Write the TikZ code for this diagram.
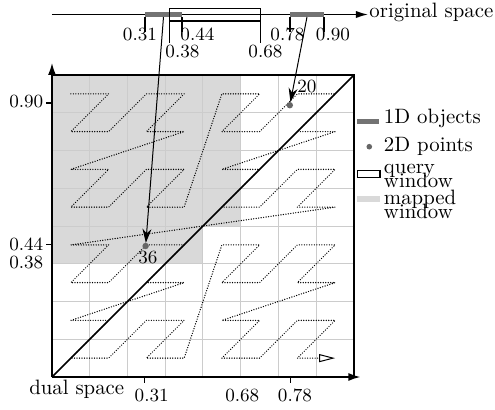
\documentclass[tikz,border=0pt]{standalone}
\usetikzlibrary{arrows.meta}
\definecolor{barc}{gray}{0.45}
\definecolor{mapc}{gray}{0.85}
\definecolor{gridc}{gray}{0.8}
\definecolor{ptc}{gray}{0.4}
\begin{document}
\begin{tikzpicture}[x=0.5pt,y=-0.5pt,
  txt/.style={font=\fontsize{10.4}{12}\selectfont, inner sep=0pt, outer sep=0pt},
  num/.style={font=\fontsize{9.3}{11}\selectfont, inner sep=0pt, outer sep=0pt},
  objbar/.style={fill=barc, inner sep=0pt, outer sep=0pt, minimum height=2.7pt},
  dpt/.style={circle, fill=ptc, inner sep=0pt, outer sep=0pt, minimum size=3.2pt},
  qbox/.style={draw=black, line width=0.6pt, inner sep=0pt, outer sep=0pt},
  tickl/.style={line width=0.6pt},
  axisl/.style={line width=0.8pt, -{Latex[length=6pt,width=4pt]}},
  zcurve/.style={line width=0.7pt, line cap=round, dash pattern=on 0pt off 1.25pt,
    -{Triangle[open,length=8pt,width=4pt,line width=0.5pt]}},
  maparrow/.style={line width=0.5pt, -{Stealth[length=7pt,width=4.5pt]}},
]
\useasboundingbox (0,0) rectangle (495,409);

% ---------- original space (top) ----------
\coordinate (os0) at (52,14.5);
\coordinate (os1) at (368,14.5);
\draw[line width=0.7pt, -{Latex[length=6pt,width=3.6pt]}] (os0) -- (os1);
\node[txt, anchor=base west] (ost) at (369.5,17.5) {original space};
\node[objbar, minimum width=18.5pt] (ob1) at (163.5,14.3) {};
\node[objbar, minimum width=17pt] (ob2) at (307,14.3) {};
\node[qbox, minimum width=45.6pt, minimum height=6.2pt] (qw) at (215.1,14.8) {};
\draw[tickl] (ob1.south west) -- ++(0,15);
\draw[tickl] (ob1.south east) -- ++(0,15);
\draw[tickl] (ob2.south west) -- ++(0,15);
\draw[tickl] (ob2.south east) -- ++(0,15);
\draw[tickl] (qw.south west) -- ++(0,22);
\draw[tickl] (qw.south east) -- ++(0,22);
\node[num, anchor=base] (t31) at (140,40.5) {0.31};
\node[num, anchor=base] (t44) at (197.5,40.5) {0.44};
\node[num, anchor=base] (t78) at (287.5,40.5) {0.78};
\node[num, anchor=base] (t90) at (333,40.5) {0.90};
\node[num, anchor=base] (t38) at (182.5,57.3) {0.38};
\node[num, anchor=base] (t68) at (265.5,57.3) {0.68};

% ---------- dual space (square) ----------
\begin{scope}[shift={(52,377)}, x=18.875pt, y=18.875pt]
  \fill[mapc] (0,8) -- (5,8) -- (5,4) -- (4,4) -- (4,3.02) -- (0,3.02) -- cycle;
  \foreach \k in {1,...,7} {
    \draw[gridc, line width=0.5pt] (\k,0) -- (\k,8);
    \draw[gridc, line width=0.5pt] (0,\k) -- (8,\k);
  }
  \draw[zcurve] (0.5,7.5)
    \foreach \i [evaluate=\i as \cx using {mod(\i,2)+2*mod(floor(\i/4),2)+4*mod(floor(\i/16),2)+0.5},
                 evaluate=\i as \cy using {7.5-(mod(floor(\i/2),2)+2*mod(floor(\i/8),2)+4*mod(floor(\i/32),2))}]
      in {1,...,63} { -- (\cx,\cy) };
  \draw[line width=0.8pt] (0,0) -- (8,8);
  \draw[line width=0.6pt] (0,8) -- (8,8) -- (8,0);
  \coordinate (o) at (0,0);
  \coordinate (xa) at (8.17,0);
  \coordinate (ya) at (0,8.32);
  \draw[axisl] (o) -- (xa);
  \draw[axisl] (o) -- (ya);
  \draw[tickl] (0,7.26) -- (-0.16,7.26);
  \draw[tickl] (0,3.5) -- (-0.16,3.5);
  \draw[tickl] (2.46,0) -- (2.46,-0.16);
  \draw[tickl] (6.32,0) -- (6.32,-0.16);
  \node[dpt] (p36) at (2.48,3.47) {};
  \node[dpt] (p20) at (6.3,7.2) {};
\end{scope}

\draw[maparrow] (ob1.south) -- (p36);
\draw[maparrow] (ob2.south) -- (p20);
\node[num, anchor=base] (l36) at (148,263.3) {36};
\node[num, anchor=base] (l20) at (307,92.3) {20};

\node[txt, anchor=base west] (ds) at (29.3,394) {dual space};
\node[num, anchor=base] (x31) at (151.7,401) {0.31};
\node[num, anchor=base] (x68) at (242.3,401) {0.68};
\node[num, anchor=base] (x78) at (295,401) {0.78};
\node[num, anchor=base east] (y90) at (43.3,107.7) {0.90};
\node[num, anchor=base east] (y44) at (43.3,250.7) {0.44};
\node[num, anchor=base east] (y38) at (43.3,268.3) {0.38};

% ---------- legend ----------
\node[objbar, minimum width=11pt, minimum height=2.5pt] (lg1) at (368.3,121.5) {};
\node[txt, anchor=base west] (lt1) at (384,123.3) {1D objects};
\node[dpt, minimum size=2.8pt] (lg2) at (369.3,146.7) {};
\node[txt, anchor=base west] (lt2) at (384,151.7) {2D points};
\node[qbox, minimum width=11.3pt, minimum height=3.6pt] (lg3) at (368.7,173.7) {};
\node[txt, anchor=base west] (lt3a) at (384,173) {query};
\node[txt, anchor=base west] (lt3b) at (384,187) {window};
\node[fill=mapc, inner sep=0pt, minimum width=11.3pt, minimum height=3.3pt] (lg4) at (368.7,199) {};
\node[txt, anchor=base west] (lt4a) at (384,204.7) {mapped};
\node[txt, anchor=base west] (lt4b) at (384,218.6) {window};
\end{tikzpicture}
\end{document}
